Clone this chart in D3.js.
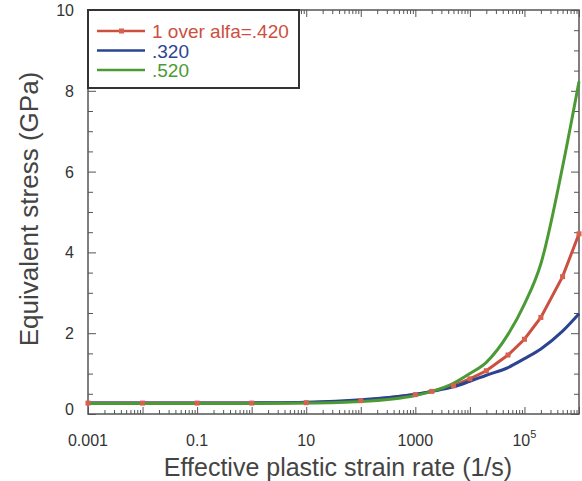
<!DOCTYPE html>
<html>
<head>
<meta charset="utf-8">
<script src="https://cdn.jsdelivr.net/npm/d3@7/dist/d3.min.js"></script>
<style>
  body { margin: 0; background: #fff; }
  svg { font-family: "Liberation Sans", Arial, sans-serif; }
</style>
</head>
<body>
<div id="wrap"></div>
<script>
// 数据
const rates = [1e-3, 1e-2, 0.1, 1, 10, 100, 1000, 2000, 5000, 1e4, 2e4, 5e4, 1e5, 2e5, 5e5, 1e6];
const stress420 = [0.27, 0.27, 0.27, 0.27, 0.28, 0.33, 0.48, 0.56, 0.70, 0.87, 1.07, 1.46, 1.85, 2.39, 3.40, 4.46];
const stress320 = [0.27, 0.27, 0.27, 0.275, 0.29, 0.35, 0.49, 0.56, 0.67, 0.81, 0.96, 1.15, 1.37, 1.61, 2.05, 2.48];
const stress520 = [0.26, 0.26, 0.26, 0.26, 0.27, 0.31, 0.46, 0.56, 0.76, 1.00, 1.28, 1.97, 2.72, 3.72, 6.12, 8.23];
const seriesNames = ["1 over alfa=.420", ".320", ".520"];
const xLabelTicks = [1e-3, 0.1, 10, 1000, 1e5];
const xLabelText = ["0.001", "0.1", "10", "1000", "10^5"];
const yLabelTicks = [0, 2, 4, 6, 8, 10];

const width = 582;
const height = 481;
const margin = { top: 10, right: 3, bottom: 67, left: 88 };
const redColor = "#cc5040";
const blueColor = "#2b4490";
const greenColor = "#4b9a34";
const axisColor = "#555";

let svg = d3.select("#wrap")
  .append("svg")
  .attr("width", width)
  .attr("height", height);

const x = d3.scaleLog()
  .domain([1e-3, 1e6])
  .range([margin.left, width - margin.right]);
const y = d3.scaleLinear()
  .domain([0, 10])
  .range([height - margin.bottom, margin.top]);

// 刻度
const majorX = d3.range(-3, 7).map(e => Math.pow(10, e));
const minorX = [];
for (let e = -3; e < 6; e++) {
  for (let k = 2; k < 10; k++) minorX.push(k * Math.pow(10, e));
}
const majorY = d3.range(0, 10.1, 2);
const minorY = d3.range(0, 10.1, 0.5).filter(v => v % 2 !== 0);

function tickAxis(axisFn, scale, values, size, transform) {
  const ax = axisFn(scale).tickValues(values).tickSize(size).tickFormat("");
  const g = svg.append("g").attr("transform", transform).call(ax);
  g.select(".domain").remove();
  g.selectAll("line").attr("stroke", axisColor).attr("stroke-width", 1);
  return g;
}
const x0 = margin.left, x1 = width - margin.right;
const y0 = height - margin.bottom, y1 = margin.top;
tickAxis(d3.axisBottom, x, majorX, -7, `translate(0,${y0})`);
tickAxis(d3.axisBottom, x, minorX, -4, `translate(0,${y0})`);
tickAxis(d3.axisTop, x, majorX, -7, `translate(0,${y1})`);
tickAxis(d3.axisTop, x, minorX, -4, `translate(0,${y1})`);
tickAxis(d3.axisLeft, y, majorY, -8, `translate(${x0},0)`);
tickAxis(d3.axisLeft, y, minorY, -5, `translate(${x0},0)`);
tickAxis(d3.axisRight, y, majorY, -8, `translate(${x1},0)`);
tickAxis(d3.axisRight, y, minorY, -5, `translate(${x1},0)`);

svg.append("rect")
  .attr("x", x0).attr("y", y1)
  .attr("width", x1 - x0).attr("height", y0 - y1)
  .attr("fill", "none")
  .attr("stroke", axisColor)
  .attr("stroke-width", 1.5);

// 刻度文字
xLabelTicks.forEach((v, i) => {
  const t = svg.append("text")
    .attr("x", x(v))
    .attr("y", 446)
    .attr("text-anchor", "middle")
    .attr("font-size", 16)
    .attr("fill", "#333");
  const parts = xLabelText[i].split("^");
  t.append("tspan").text(parts[0]);
  if (parts[1]) {
    t.append("tspan").attr("font-size", 11).attr("dy", -8).text(parts[1]);
  }
});
yLabelTicks.forEach(v => {
  svg.append("text")
    .attr("x", 74)
    .attr("y", y(v) + 6 - (v === 0 ? 5 : 0))
    .attr("text-anchor", "end")
    .attr("font-size", 16)
    .attr("fill", "#333")
    .text(v);
});

// 轴标题
svg.append("text")
  .attr("x", 338)
  .attr("y", 476)
  .attr("text-anchor", "middle")
  .attr("font-size", 25)
  .attr("fill", "#444")
  .text("Effective plastic strain rate (1/s)");
svg.append("text")
  .attr("transform", "translate(38,209) rotate(-90)")
  .attr("text-anchor", "middle")
  .attr("font-size", 26)
  .attr("fill", "#444")
  .text("Equivalent stress (GPa)");

// 曲线
const linear = d3.line().x((d, i) => x(rates[i])).y(d => y(d));
const smooth = d3.line().x((d, i) => x(rates[i])).y(d => y(d)).curve(d3.curveMonotoneX);
const plot = svg.append("g");
plot.append("path").attr("d", linear(stress420))
  .attr("fill", "none").attr("stroke", redColor).attr("stroke-width", 3);
plot.append("path").attr("d", smooth(stress320))
  .attr("fill", "none").attr("stroke", blueColor).attr("stroke-width", 3);
plot.append("path").attr("d", smooth(stress520))
  .attr("fill", "none").attr("stroke", greenColor).attr("stroke-width", 3);
plot.selectAll("rect.mk")
  .data(stress420)
  .enter()
  .append("rect")
  .attr("class", "mk")
  .attr("x", (d, i) => x(rates[i]) - 2.5)
  .attr("y", d => y(d) - 2.5)
  .attr("width", 5)
  .attr("height", 5)
  .attr("fill", "#d8604e");

// 图例
const legend = svg.append("g");
legend.append("rect")
  .attr("x", x0).attr("y", y1)
  .attr("width", 211).attr("height", 78)
  .attr("fill", "#fff")
  .attr("stroke", "#333")
  .attr("stroke-width", 2);
const legendColors = [redColor, blueColor, greenColor];
seriesNames.forEach((name, i) => {
  const cy = 31 + i * 19.5;
  legend.append("line")
    .attr("x1", 97).attr("x2", 145)
    .attr("y1", cy).attr("y2", cy)
    .attr("stroke", legendColors[i])
    .attr("stroke-width", 2.5);
  if (i === 0) {
    legend.append("rect")
      .attr("x", 119).attr("y", cy - 2.5)
      .attr("width", 5).attr("height", 5)
      .attr("fill", "#d8604e");
  }
  legend.append("text")
    .attr("x", 152)
    .attr("y", cy + 7)
    .attr("font-size", 19)
    .attr("fill", legendColors[i])
    .text(name);
});
</script>
</body>
</html>
